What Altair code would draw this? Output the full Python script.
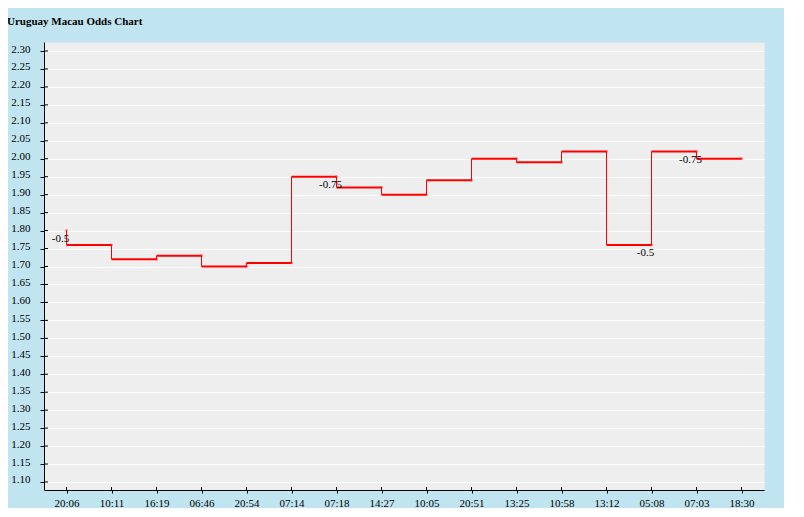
import altair as alt
import pandas as pd

# ---- data ----
chart_title = "Uruguay Macau Odds Chart"
times = ["20:06", "10:11", "16:19", "06:46", "20:54", "07:14", "07:18", "14:27",
         "10:05", "20:51", "13:25", "10:58", "13:12", "05:08", "07:03", "18:30"]
odds = [1.76, 1.72, 1.73, 1.70, 1.71, 1.95, 1.92, 1.90,
        1.94, 2.00, 1.99, 2.02, 1.76, 2.02, 2.00, 2.00]
opening = 1.80
handicap = ["-0.5", "", "", "", "", "", "-0.75", "",
            "", "", "", "", "", "-0.5", "-0.75", ""]
y_ticks = [1.10, 1.15, 1.20, 1.25, 1.30, 1.35, 1.40, 1.45, 1.50, 1.55, 1.60,
           1.65, 1.70, 1.75, 1.80, 1.85, 1.90, 1.95, 2.00, 2.05, 2.10, 2.15,
           2.20, 2.25, 2.30]

prev = [opening] + odds[:-1]

# ---- tables ----
horiz = pd.DataFrame({"t": times[:-1], "t2": times[1:], "v": odds[:-1]})
vert = pd.DataFrame({"t": times, "v": prev, "v2": odds})
dots = pd.DataFrame({"t": times, "v": prev})
labels = pd.DataFrame({"t": times, "v": prev, "h": handicap})
labels = labels[labels["h"] != ""]
ytick_df = pd.DataFrame({"v": y_ticks})
xtick_df = pd.DataFrame({"t": times})
title_df = pd.DataFrame({"title": [chart_title]})

W, H = 720, 448
FONT = "Liberation Serif"

xscale = alt.Scale(domain=times, type="point", padding=0.5)
yscale = alt.Scale(domain=[1.0777, 2.3251], nice=False, zero=False)

xaxis = alt.Axis(title=None, labelAngle=0, grid=False, domainColor="black",
                 tickColor="black", tickSize=3, labelPadding=13.7,
                 labelBaseline="alphabetic", labelFont=FONT, labelFontSize=11,
                 labelColor="black", labelFlush=False, labelOverlap=False)
yaxis = alt.Axis(title=None, values=y_ticks, format=".2f", grid=True,
                 gridColor="white", gridWidth=1, domainColor="black",
                 tickColor="black", tickSize=4, labelPadding=10,
                 labelBaseline="alphabetic", labelOffset=1, labelFont=FONT,
                 labelFontSize=11, labelColor="black", labelFlush=False,
                 labelOverlap=False)

X = alt.X("t:N", scale=xscale, axis=xaxis, sort=None)
Y = alt.Y("v:Q", scale=yscale, axis=yaxis)

h_layer = alt.Chart(horiz).mark_rule(color="#FF0000", strokeWidth=2).encode(
    x=X, x2="t2", y=Y)
v_layer = alt.Chart(vert).mark_rule(color="#FF0000", strokeWidth=1).encode(
    x=X, y=Y, y2="v2")
d_layer = alt.Chart(dots).mark_circle(color="#FF0000", size=8, opacity=0.5).encode(
    x=X, y=Y)
t_layer = alt.Chart(labels).mark_text(
    dx=-6, dy=8, align="center", baseline="middle", font=FONT, fontSize=11,
    color="black").encode(x=X, y=Y, text="h:N")

ytick_in = alt.Chart(ytick_df).mark_rule(color="black", strokeWidth=1).encode(
    x=alt.value(0), x2=alt.value(4), y=Y)
xtick_in = alt.Chart(xtick_df).mark_rule(color="black", strokeWidth=1).encode(
    x=X, y=alt.value(H - 3), y2=alt.value(H))

title_layer = alt.Chart(title_df).mark_text(
    align="left", baseline="alphabetic", font=FONT, fontSize=11,
    fontWeight="bold", color="black").encode(
    x=alt.value(-37), y=alt.value(-17), text="title:N")

chart = alt.layer(
    h_layer, v_layer, d_layer, t_layer, ytick_in, xtick_in, title_layer
).properties(
    width=W, height=H,
    autosize=alt.AutoSizeParams(type="none"),
    padding={"left": 36, "top": 34, "right": 20, "bottom": 18},
    background="#C1E5F0",
).configure_view(fill="#EEEEEE", stroke="transparent")

chart.save("out.html", embed_options={"renderer": "svg", "actions": False})
